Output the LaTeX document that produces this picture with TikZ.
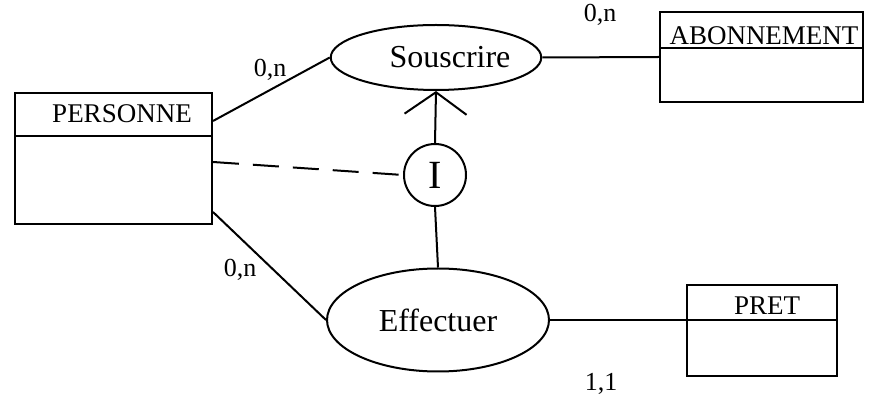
\documentclass[tikz,border=0pt]{standalone}
\usepackage{fontspec}
\setmainfont{Liberation Serif}
\usepackage{tikz}
\usetikzlibrary{arrows.meta,positioning,shapes.geometric,calc}

\begin{document}
\begin{tikzpicture}[x=0.5pt,y=-0.5pt,
  entite/.style={draw,rectangle,line width=1pt,inner sep=0pt},
  assoc/.style={draw,ellipse,line width=1pt,inner sep=0pt,font=\fontsize{16}{16}\selectfont},
  titre/.style={font=\fontsize{13.5}{13.5}\selectfont,inner sep=0pt},
  card/.style={font=\fontsize{13}{13}\selectfont,inner sep=0pt},
  lien/.style={line width=1pt}]
  \useasboundingbox (0,0) rectangle (873,416);
  % entities
  \node[entite,minimum width=98.5pt,minimum height=65.5pt] (personne) at (113.5,158.5) {};
  \node[entite,minimum width=101.5pt,minimum height=45pt] (abonnement) at (761.5,57) {};
  \node[entite,minimum width=75pt,minimum height=45.5pt] (pret) at (762,330.5) {};
  \node[titre] (personne-t) at (122,114) {PERSONNE};
  \node[titre] (abonnement-t) at (764,36) {ABONNEMENT};
  \node[titre] (pret-t) at (767,306) {PRET};
  % header lines
  \draw[lien] ($(personne.north west)+(0pt,-22pt)$) -- ($(personne.north east)+(0pt,-22pt)$);
  \draw[lien] ($(abonnement.north west)+(0pt,-18.5pt)$) -- ($(abonnement.north east)+(0pt,-18.5pt)$);
  \draw[lien] ($(pret.north west)+(0pt,-18pt)$) -- ($(pret.north east)+(0pt,-18pt)$);
  % associations
  \node[assoc,minimum width=103pt,minimum height=32.5pt] (souscrire) at (436,57.5) {\hspace{14pt}Souscrire};
  \node[assoc,minimum width=111pt,minimum height=51.5pt] (effectuer) at (438,320) {Effectuer};
  % inclusion constraint
  \node[draw,circle,line width=1pt,minimum size=31pt,inner sep=0pt,
        font=\fontsize{20}{20}\selectfont] (contrainte) at (435,175) {I};
  % links
  \coordinate (p1) at ($(personne.north east)+(0pt,-14.5pt)$);
  \coordinate (p2) at ($(personne.north east)+(0pt,-35pt)$);
  \coordinate (p3) at ($(personne.north east)+(0pt,-60pt)$);
  \draw[lien] (p1) -- (souscrire.west);
  \draw[lien] (p3) -- (effectuer.west);
  \draw[lien] (souscrire.east) -- (abonnement.west);
  \draw[lien] (effectuer.east) -- (effectuer.east -| pret.west);
  \draw[lien,dash pattern=on 13pt off 7pt] (p2) -- (contrainte.west);
  \draw[lien] (effectuer.north) -- (contrainte.south);
  \draw[lien,-{Straight Barb[length=11pt,width=31pt,line width=1pt]}] (contrainte.north) -- (souscrire.south);
  % cardinalities
  \node[card] (c1) at (270,70) {0,n};
  \node[card] (c2) at (600,15) {0,n};
  \node[card] (c3) at (240,270) {0,n};
  \node[card] (c4) at (601,384) {1,1};
\end{tikzpicture}
\end{document}
